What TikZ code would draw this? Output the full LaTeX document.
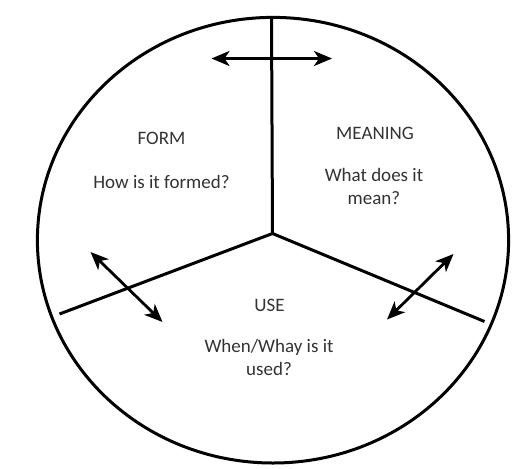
\documentclass[tikz,border=0pt]{standalone}
\usepackage{fontspec}
\setmainfont{Carlito}
\usetikzlibrary{arrows.meta}
\begin{document}
\begin{tikzpicture}[x=1pt,y=-1pt,
  rim/.style={line width=3pt,black},
  spoke/.style={line width=3pt,black},
  dblarrow/.style={line width=2.8pt,black,{Stealth[length=18pt,width=15pt,inset=5pt]}-{Stealth[length=18pt,width=15pt,inset=5pt]}},
  lbl/.style={font=\fontsize{19}{23}\selectfont,text=black!80,align=center,inner sep=0pt}]
\fill[white] (0,0) rectangle (529,468);
\useasboundingbox (0,0) rectangle (529,468);
\coordinate (c) at (272.5,233.5);
\coordinate (top) at (271.5,17.5);
\coordinate (lft) at (59.5,314);
\coordinate (rgt) at (484.5,321.5);
\draw[rim] (273,240.2) ellipse [x radius=235.6, y radius=222.8];
\draw[spoke] (c) -- (top);
\draw[spoke] (c) -- (lft);
\draw[spoke] (c) -- (rgt);
\coordinate (ta) at (211.5,58.5);
\coordinate (tb) at (332,58.5);
\coordinate (la) at (90.5,252);
\coordinate (lb) at (162.5,322);
\coordinate (ra) at (453.5,254);
\coordinate (rb) at (387,319.5);
\draw[dblarrow] (ta) -- (tb);
\draw[dblarrow] (la) -- (lb);
\draw[dblarrow] (ra) -- (rb);
\node[lbl] (form) at (161.5,138.5) {FORM};
\node[lbl] (formq) at (161.5,181.5) {How is it formed?};
\node[lbl] (mean) at (375,133) {MEANING};
\node[lbl] (meanq) at (374,186.5) {What does it\\mean?};
\node[lbl] (use) at (269.5,305) {USE};
\node[lbl] (useq) at (269,357) {When/Whay is it\\used?};
\end{tikzpicture}
\end{document}
